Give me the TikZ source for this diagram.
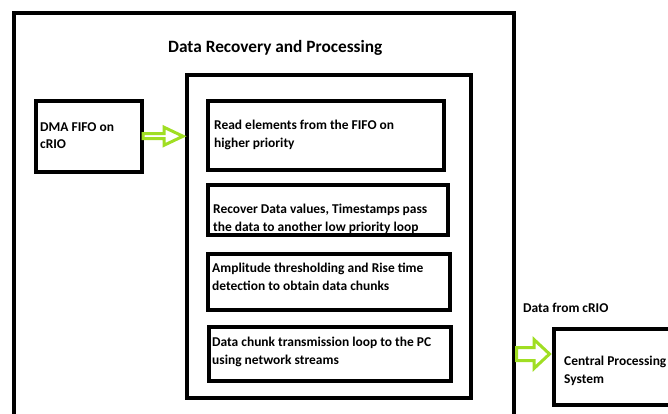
\documentclass[tikz,border=0pt]{standalone}
\usepackage{fontspec}
\setmainfont{Carlito}
\definecolor{arrowgreen}{RGB}{160,222,35}
\begin{document}
\begin{tikzpicture}[x=1pt,y=-1pt,
  box/.style={draw=black,line width=4pt,outer sep=0pt,inner sep=0pt,anchor=north west},
  txt/.style={font=\bfseries\fontsize{13.45}{17.8}\selectfont,align=left,inner sep=0pt,anchor=base west},
  garrow/.style={draw=arrowgreen,fill=white,line width=3pt,line join=miter}]
\useasboundingbox (0,0) rectangle (668,414);
\clip (0,0) rectangle (668,414);
% boxes
\node[box,minimum width=500pt,minimum height=420pt] (outer) at (14,13) {};
\node[box,minimum width=284pt,minimum height=323pt] (inner) at (187,75) {};
\node[box,minimum width=105.5pt,minimum height=70.5pt] (dma) at (36,101) {};
\node[box,minimum width=236pt,minimum height=69pt] (read) at (208,101) {};
\node[box,minimum width=240pt,minimum height=50pt] (recover) at (208,185) {};
\node[box,minimum width=242pt,minimum height=56pt] (ampl) at (208,254) {};
\node[box,minimum width=242pt,minimum height=54pt] (chunk) at (209,327) {};
\node[box,minimum width=140pt,minimum height=76pt] (central) at (554,329) {};
% texts (base anchor = baseline of last line)
\node[font=\bfseries\fontsize{17.3}{20}\selectfont,inner sep=0pt,anchor=base west] (title) at (168,53) {Data Recovery and Processing};
\node[txt] (tdma) at (40,149) {DMA FIFO on\\cRIO};
\node[txt] (tread) at (214,147) {Read elements from the FIFO on\\higher priority};
\node[txt] (trec) at (213,231) {Recover Data values, Timestamps pass\\the data to another low priority loop};
\node[txt] (tampl) at (212,290.5) {Amplitude thresholding and Rise time\\detection to obtain data chunks};
\node[txt] (tchunk) at (212,364.5) {Data chunk transmission loop to the PC\\using network streams};
\node[txt] (tfrom) at (523,312) {Data from cRIO};
\node[txt] (tcentral) at (564,383.5) {Central Processing\\System};
% arrows
\draw[garrow,shift={(dma.east)}] (1.5,-2.5) -- (22.5,-2.5) -- (22.5,-9) -- (41.5,0) -- (22.5,9) -- (22.5,2.5) -- (1.5,2.5) -- cycle;
\draw[garrow,shift={(outer.east |- 0,354)}] (2.5,-6.5) -- (20,-6.5) -- (20,-14.5) -- (35.5,0) -- (20,14.5) -- (20,6.5) -- (2.5,6.5) -- cycle;
\end{tikzpicture}
\end{document}
